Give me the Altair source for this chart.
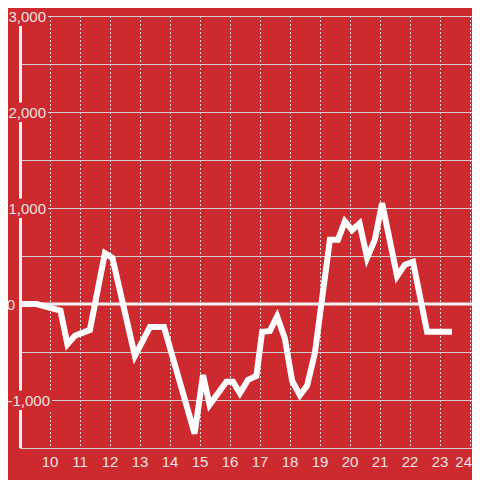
import altair as alt
import pandas as pd

# data
hours = [9.0, 9.55, 10.35, 10.58, 10.83, 11.33, 11.83, 12.08, 12.83, 13.33,
         13.8, 14.82, 15.1, 15.32, 15.88, 16.1, 16.33, 16.6, 16.88, 17.07,
         17.33, 17.57, 17.83, 18.07, 18.33, 18.57, 18.83, 19.33, 19.6, 19.83,
         20.07, 20.32, 20.57, 20.83, 21.07, 21.57, 21.83, 22.1, 22.57, 23.4]
values = [0, 0, -70, -420, -330, -270, 530, 480, -540, -240,
          -240, -1350, -740, -1050, -810, -810, -930, -790, -750, -290,
          -280, -130, -360, -800, -950, -850, -510, 670, 670, 860,
          770, 840, 480, 670, 1050, 290, 410, 440, -290, -290]

x_ticks = [10, 11, 12, 13, 14, 15, 16, 17, 18, 19, 20, 21, 22, 23, 24]
x_tick_labels = ["10", "11", "12", "13", "14", "15", "16", "17", "18", "19",
                 "20", "21", "22", "23", "24"]
y_grid = [-1500, -1000, -500, 500, 1000, 1500, 2000, 2500, 3000]
y_label_values = [3000, 2000, 1000, 0, -1000]
y_label_texts = ["3,000", "2,000", "1,000", "0", "-1,000"]

BG = "#CC2A2E"
LBL = "#F3E3E3"
FONT = "Liberation Sans"
W, H = 452, 432

df = pd.DataFrame({"h": hours, "v": values})
lab = pd.DataFrame({"v": y_label_values, "t": y_label_texts})
xt = pd.DataFrame({"h": x_ticks, "t": x_tick_labels})
yg = pd.DataFrame({"v": y_grid})

xscale = alt.Scale(domain=[9, 9 + W / 30], nice=False, zero=False)
yscale = alt.Scale(domain=[-1500, 3000], nice=False, zero=False)
X = lambda f: alt.X(f, scale=xscale, axis=None)
Y = lambda f: alt.Y(f, scale=yscale, axis=None)

hgrid = alt.Chart(yg).mark_rule(color="#CFCFCF", strokeWidth=1, yOffset=0.5).encode(y=Y("v:Q"))
vgrid = alt.Chart(xt).mark_rule(color="#DDDDDD", strokeWidth=1, strokeDash=[2, 2],
                                xOffset=0.5).encode(x=X("h:Q"))

zero = alt.Chart(pd.DataFrame({"v": [0]})).mark_rule(color="#F2F2F2", strokeWidth=3).encode(
    y=Y("v:Q"))

line = alt.Chart(df).mark_line(color="white", strokeWidth=6, strokeJoin="miter").encode(
    x=X("h:Q"), y=Y("v:Q"))

axis_line = alt.Chart(pd.DataFrame({"h": [9]})).mark_rule(
    color="#F2F2F2", strokeWidth=3, xOffset=0.5).encode(x=X("h:Q"))

boxes = alt.Chart(lab).transform_filter("datum.v > 0").transform_calculate(
    top="datum.v + 100", bot="datum.v - 104"
).mark_rect(color=BG).encode(
    x=alt.value(-12), x2=alt.value(28), y=Y("top:Q"), y2="bot:Q")
boxes_neg = alt.Chart(lab).transform_filter("datum.v < 0").transform_calculate(
    top="datum.v + 100", bot="datum.v - 104"
).mark_rect(color=BG).encode(
    x=alt.value(-12), x2=alt.value(32), y=Y("top:Q"), y2="bot:Q")

def ylab(filt, xpos):
    return alt.Chart(lab).transform_filter(filt).mark_text(
        align="right", baseline="middle", font=FONT, fontSize=15, color=LBL, dy=1
    ).encode(x=alt.value(xpos), y=Y("v:Q"), text="t:N")

txt = ylab("datum.v > 0", 26)
txt_zero = ylab("datum.v == 0", -5)
txt_neg = ylab("datum.v < 0", 30)

xlab = alt.Chart(xt).transform_filter("datum.h < 24").mark_text(
    align="center", baseline="middle", font=FONT, fontSize=15, color=LBL, dy=1
).encode(x=X("h:Q"), y=alt.value(H + 13), text="t:N")
xlab_last = alt.Chart(xt).transform_filter("datum.h == 24").mark_text(
    align="right", baseline="middle", font=FONT, fontSize=15, color=LBL, dy=1
).encode(x=alt.value(W), y=alt.value(H + 13), text="t:N")

chart = alt.layer(hgrid, vgrid, zero, line, axis_line, boxes, boxes_neg,
                  txt, txt_zero, txt_neg, xlab, xlab_last).properties(
    width=W, height=H,
    padding={"left": 12, "top": 8, "right": 0, "bottom": 32},
    autosize=alt.AutoSizeParams(type="none"),
    background=BG,
).configure_view(strokeWidth=0)

chart.save("out.html", embed_options={"renderer": "svg", "actions": False})
